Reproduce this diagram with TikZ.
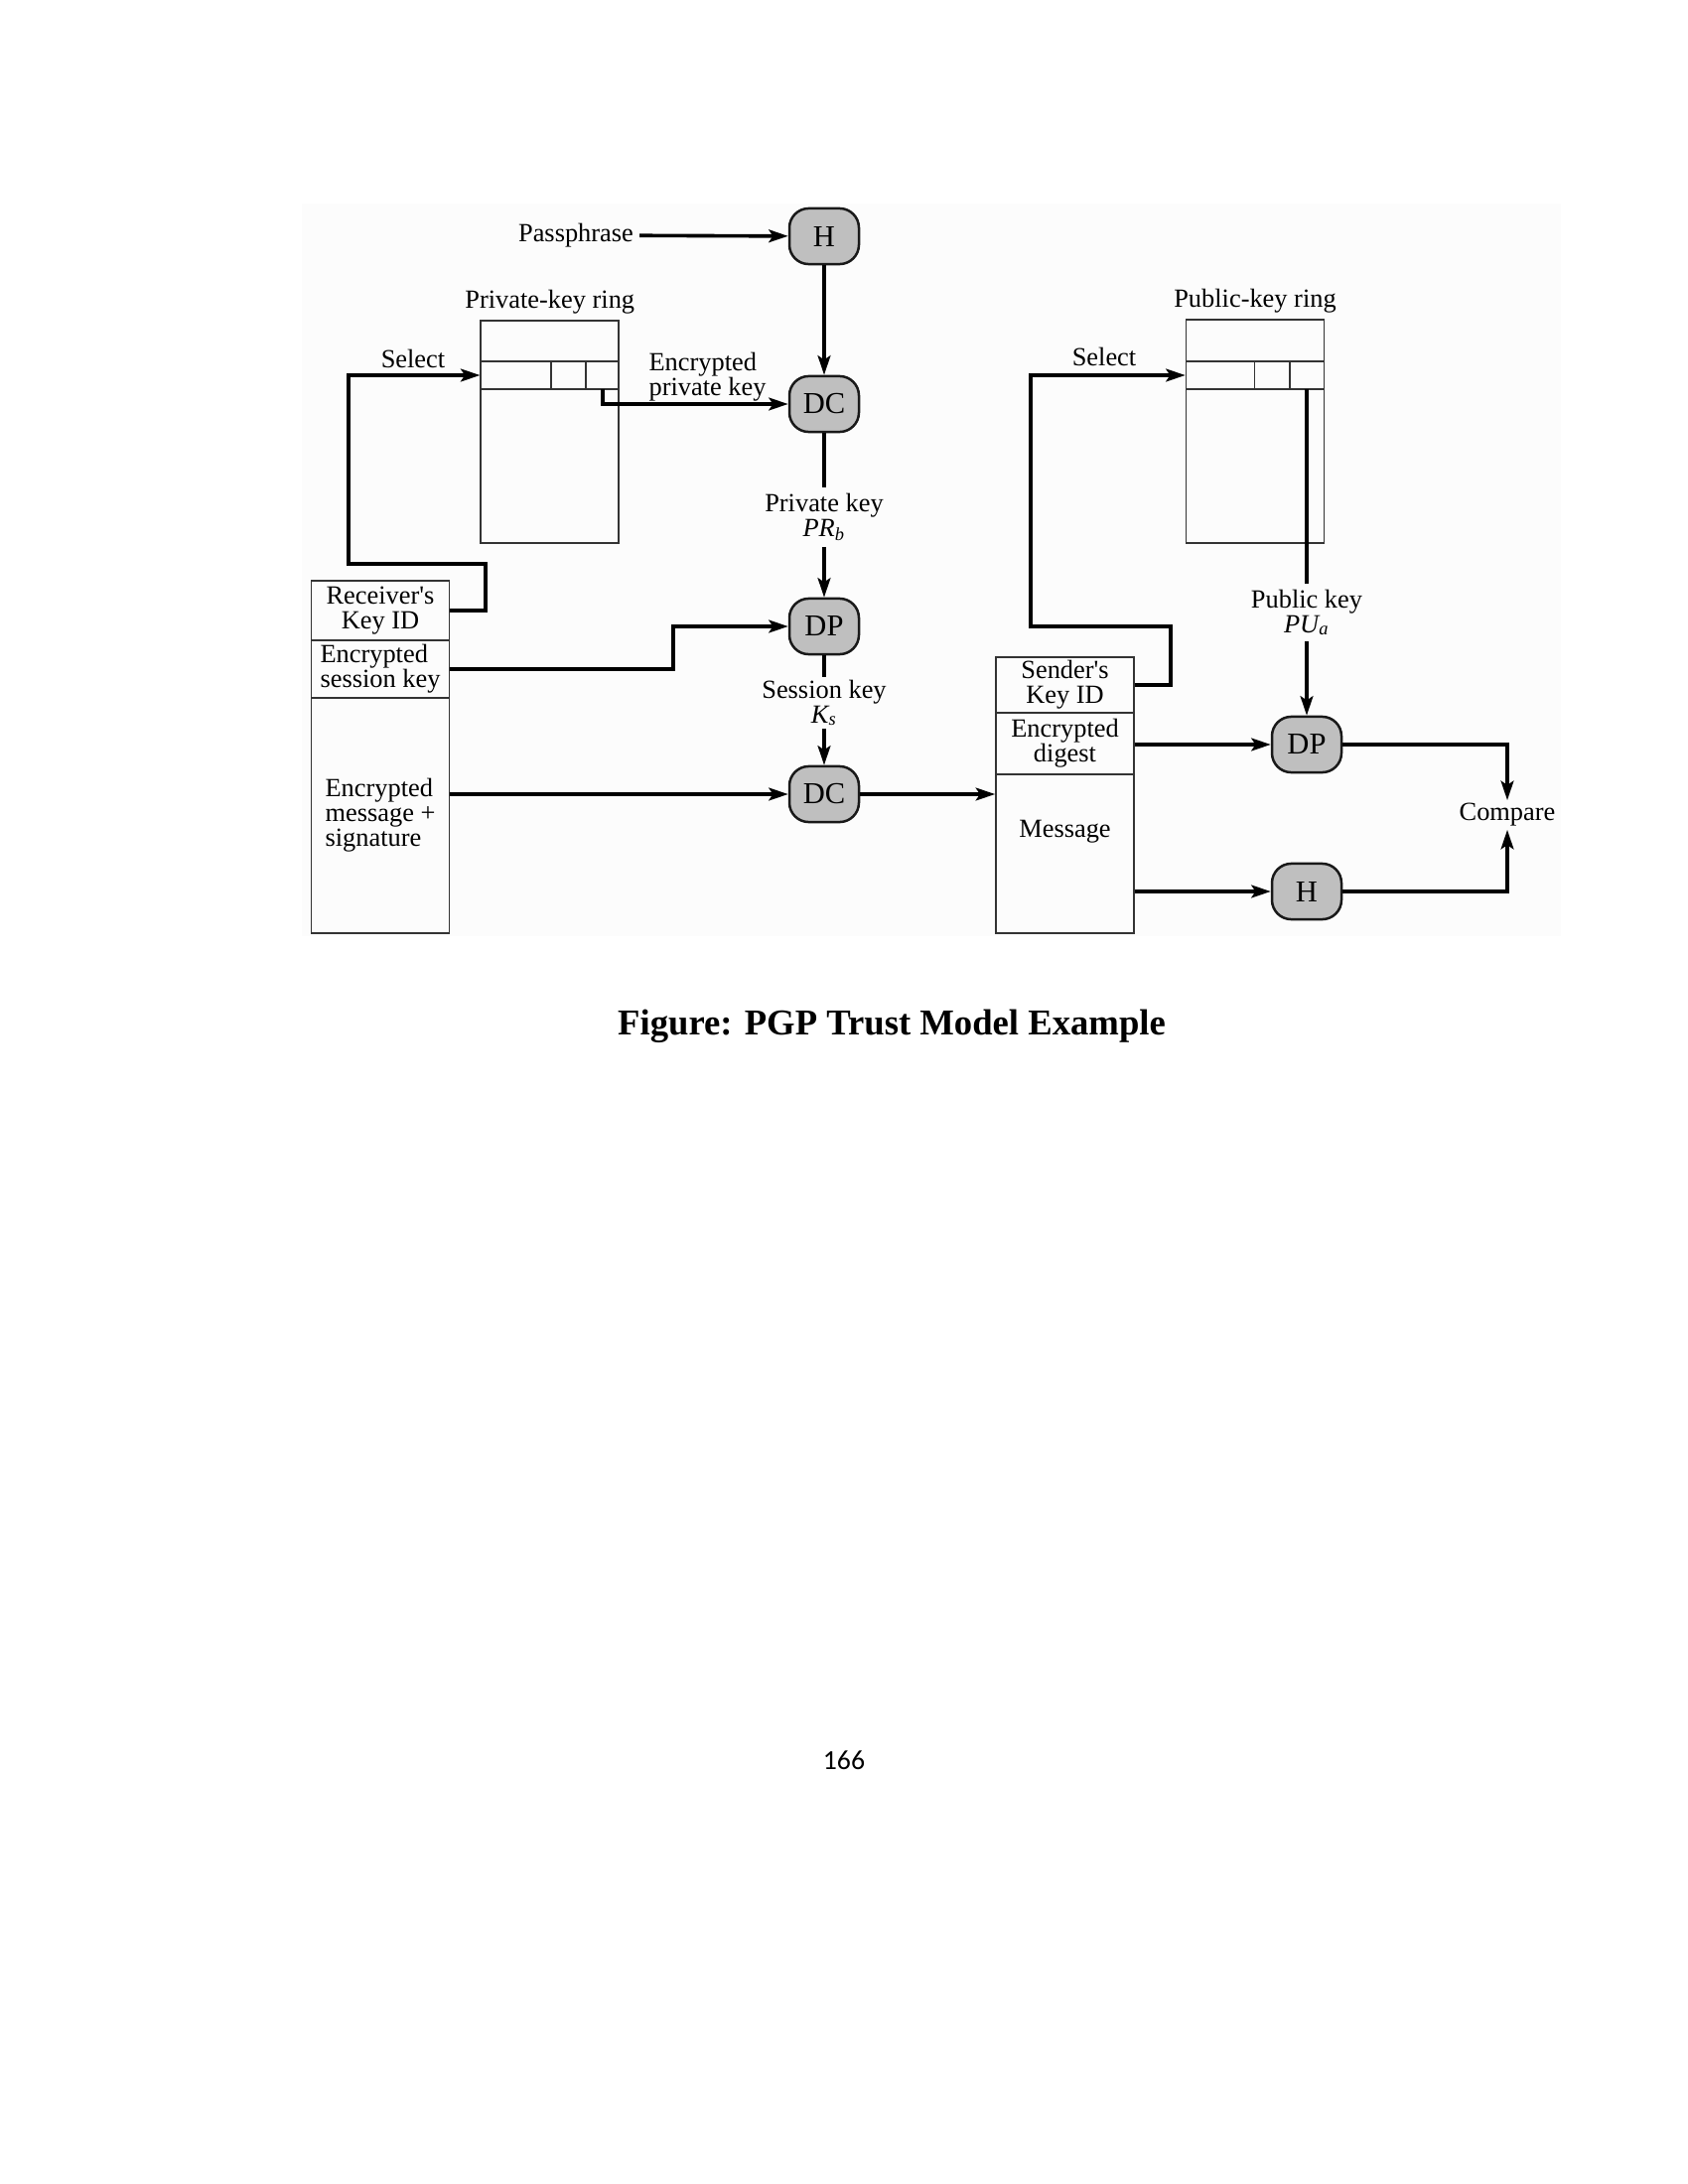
\documentclass[tikz,border=0pt]{standalone}
\usepackage{fontspec}
\setmainfont{Liberation Serif}
\newfontfamily\pagefont{Carlito}
\usetikzlibrary{arrows.meta}

\tikzset{
  proc/.style={draw=black!90, fill=black!25, line width=0.9pt, rounded corners=7pt,
    minimum width=25.2pt, minimum height=20.2pt, inner sep=0pt, font=\fontsize{11}{12}\selectfont},
  cell/.style={draw=black!80, line width=0.6pt, minimum width=50pt, inner sep=0pt,
    align=center, font=\fontsize{9.5}{9}\selectfont},
  lbl/.style={font=\fontsize{9.5}{9}\selectfont, align=center, inner sep=2pt},
  wire/.style={line width=1.3pt},
  arr/.style={line width=1.3pt, -{Stealth[length=7pt,width=4.6pt,inset=1.5pt]}},
}

\begin{document}
\begin{tikzpicture}[x=0.36pt,y=-0.36pt]
\useasboundingbox (0,0) rectangle (1700,2200);
\fill[black!1.2] (304,205) rectangle (1572,943);

% decryption chain
\node[proc] (h1) at (830,238) {H};
\node[proc] (dc1) at (830,407) {DC};
\node[proc] (dp1) at (830,631) {DP};
\node[proc] (dc2) at (830,800) {DC};
\node[lbl] (pass) at (580,237) {Passphrase};
\node[lbl] (prkey) at (830,521) {Private key\\\textit{PR\textsubscript{b}}};
\node[lbl, inner sep=1pt] (skey) at (830,708) {Session key\\\textit{K\textsubscript{s}}};

% key rings
\node[cell, minimum height=80.8pt, label={[lbl]above:Private-key ring}] (prvring) at (553.75,435) {};
\node[cell, minimum height=10.1pt] (prvrow) at (553.75,378) {};
\foreach \x in {555,590} \draw[black!80, line width=0.6pt] (\x,364) -- (\x,392);
\node[cell, minimum height=81pt, label={[lbl]above:Public-key ring}] (pubring) at (1264,434.5) {};
\node[cell, minimum height=10.1pt] (pubrow) at (1264,378) {};
\foreach \x in {1263.5,1299} \draw[black!80, line width=0.6pt] (\x,364) -- (\x,392);
\coordinate (epk) at (607,392);
\coordinate (puk) at (1316,392);
\node[lbl] (sel1) at (416,361) {Select};
\node[lbl] (sel2) at (1112,359) {Select};
\node[lbl, anchor=west, align=left, inner sep=0pt] (epktxt) at (653,380) {Encrypted\\private key};

% received message
\node[cell, minimum height=21.6pt] (rkid) at (383,615) {Receiver\textquotesingle s\\Key ID};
\node[cell, minimum height=20.9pt, align=left] (resk) at (383,674) {Encrypted\\session key};
\node[cell, minimum height=85.3pt, align=left] (rmsg) at (383,821.5) {Encrypted\\message +\\signature};

% recovered message
\node[cell, minimum height=20.2pt] (skid) at (1072.5,690) {Sender\textquotesingle s\\Key ID};
\node[cell, minimum height=22.3pt] (sdig) at (1072.5,749) {Encrypted\\digest};
\node[cell, minimum height=57.6pt] (smsg) at (1072.5,860) {};
\node[lbl] (msgtxt) at (1072.5,838) {Message};

% signature check
\node[proc] (dp2) at (1316,750) {DP};
\node[proc] (h2) at (1316,898) {H};
\node[lbl] (pukey) at (1316,617) {Public key\\\textit{PU\textsubscript{a}}};
\node[lbl, inner sep=1pt] (cmp) at (1518,821) {Compare};

\draw[arr] (pass) -- (h1);
\draw[arr] (h1) -- (dc1);
\draw[wire] (dc1) -- (prkey);
\draw[arr] (prkey) -- (dp1);
\draw[wire] (dp1) -- (skey);
\draw[arr] (skey) -- (dc2);
\draw[arr] (epk) |- (dc1);
\draw[arr] (rkid.east) -- ++(36,0) -- ++(0,-47) -- ++(-138,0) |- (prvrow.west);
\draw[arr] (resk.east) -- ++(225,0) |- (dp1);
\draw[arr] (rmsg.east |- dc2) -- (dc2);
\draw[arr] (dc2) -- (smsg.west |- dc2);
\draw[arr] (skid.east) -- ++(36,0) -- ++(0,-59) -- ++(-141,0) |- (pubrow.west);
\draw[wire] (puk) -- (pukey);
\draw[arr] (pukey) -- (dp2);
\draw[arr] (sdig.east |- dp2) -- (dp2);
\draw[arr] (smsg.east |- h2) -- (h2);
\draw[arr] (dp2) -| (cmp);
\draw[arr] (h2) -| (cmp);

\node[anchor=base, font=\fontsize{13.2}{16}\selectfont\bfseries] (cap) at (898,1042) {Figure: PGP Trust Model Example};
\node[anchor=base, font=\pagefont\fontsize{10}{12}\selectfont] (pgno) at (850,1782) {166};
\end{tikzpicture}
\end{document}
